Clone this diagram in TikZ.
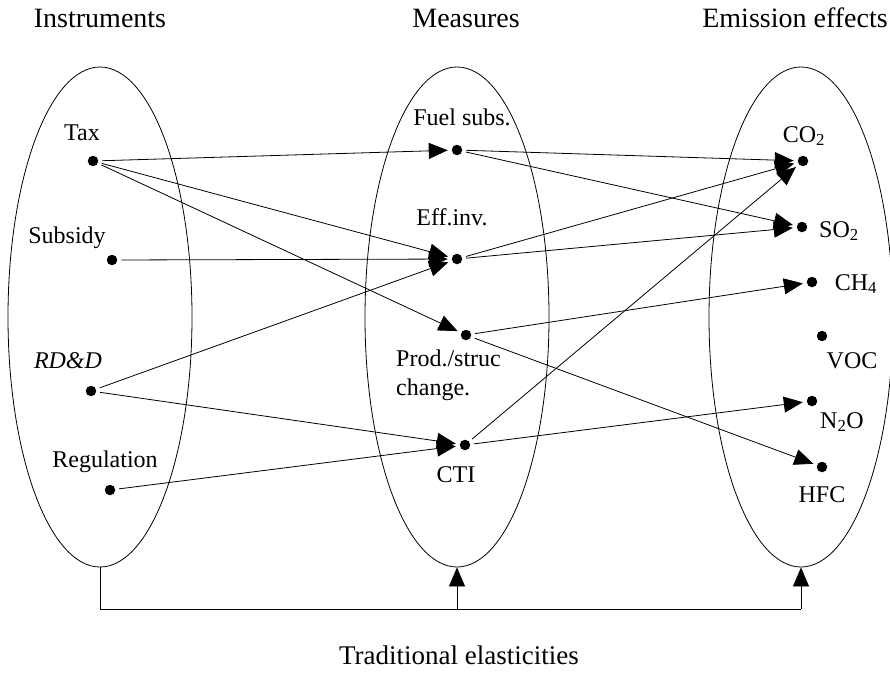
\documentclass[tikz,border=0pt]{standalone}
\usepackage{fontspec}
\setmainfont{Liberation Serif}
\usetikzlibrary{arrows.meta,shapes.geometric}
\begin{document}
\begin{tikzpicture}[x=1pt,y=-1pt,
  dot/.style={circle, fill, inner sep=0pt, minimum size=10.5pt, outer sep=4pt},
  lbl/.style={font=\fontsize{24}{29}\selectfont, inner sep=0pt, anchor=base},
  ttl/.style={font=\fontsize{28}{30}\selectfont, inner sep=0pt, anchor=base},
  oval/.style={draw, ellipse, minimum width=184pt, minimum height=500pt, inner sep=0pt, line width=0.8pt},
  arr/.style={-{Triangle[length=19pt,width=16pt]}, line width=0.8pt}]
\useasboundingbox (0,0) rectangle (890,673);
% the three groups
\node[oval] (instr) at (100,317){};
\node[oval] (meas) at (457,317){};
\node[oval] (emis) at (801,317){};
\node[ttl] (tinstr) at (100,27){Instruments};
\node[ttl] (tmeas) at (466,27){Measures};
\node[ttl] (temis) at (795,27){Emission effects};
% instruments
\node[dot] (tax) at (93,161){};
\node[dot] (subsidy) at (112,260){};
\node[dot] (rdd) at (91,391){};
\node[dot] (regul) at (110,490){};
\node[lbl] (ltax) at (82,140){Tax};
\node[lbl] (lsubsidy) at (67,243){Subsidy};
\node[lbl] (lrdd) at (68,368){\itshape RD\&D};
\node[lbl] (lregul) at (105,467){Regulation};
% measures
\node[dot] (fuel) at (457,150){};
\node[dot] (effinv) at (457,259){};
\node[dot] (prod) at (466,335){};
\node[dot] (cti) at (465,445){};
\node[lbl] (lfuel) at (462,125){Fuel subs.};
\node[lbl] (leffinv) at (452,225){Eff.inv.};
\node[lbl, anchor=north west, align=left] (lprod) at (396,350){Prod./struc\\change.};
\node[lbl] (lcti) at (456,482){CTI};
% emission effects
\node[dot] (co2) at (803,161){};
\node[dot] (so2) at (802,227){};
\node[dot] (ch4) at (812,282){};
\node[dot] (voc) at (822,336){};
\node[dot] (n2o) at (812,401){};
\node[dot] (hfc) at (822,467){};
\node[lbl] (lco2) at (804,142){CO\textsubscript{2}};
\node[lbl] (lso2) at (839,237){SO\textsubscript{2}};
\node[lbl] (lch4) at (856,290){CH\textsubscript{4}};
\node[lbl] (lvoc) at (852,368){VOC};
\node[lbl] (ln2o) at (842,428){N\textsubscript{2}O};
\node[lbl] (lhfc) at (822,502){HFC};
% instruments -> measures
\draw[arr](tax) -- (fuel);
\draw[arr](tax) -- (effinv);
\draw[arr](tax) -- (prod);
\draw[arr](subsidy) -- (effinv);
\draw[arr](rdd) -- (effinv);
\draw[arr](rdd) -- (cti);
\draw[arr](regul) -- (cti);
% measures -> emissions
\draw[arr](fuel) -- (co2);
\draw[arr](fuel) -- (so2);
\draw[arr](effinv) -- (co2);
\draw[arr](effinv) -- (so2);
\draw[arr](prod) -- (ch4);
\draw[arr](prod) -- (hfc);
\draw[arr](cti) -- (co2);
\draw[arr](cti) -- (n2o);
% traditional elasticities
\coordinate (bl) at (100,609);
\coordinate (bm) at (457,609);
\coordinate (br) at (801,609);
\draw[line width=0.8pt](instr.south) -- (bl) -- (br);
\draw[arr](bm) -- (meas.south);
\draw[arr](br) -- (emis.south);
\node[lbl, font=\fontsize{27}{30}\selectfont] (ltrad) at (459,664){Traditional elasticities};
\end{tikzpicture}
\end{document}
